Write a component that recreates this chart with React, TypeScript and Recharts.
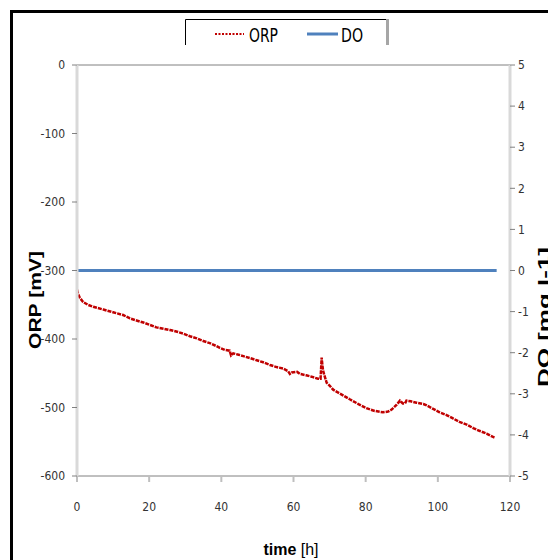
import React from 'react';
import { ComposedChart, Line, XAxis, YAxis, ReferenceLine } from 'recharts';

// ---- data ----
const orpTime = [
  0, 0.3, 0.8, 1.7, 3, 4.5, 7.3, 10, 12.8, 14.7, 16.5, 18.4, 20, 22, 24, 25.8, 27.5, 29.4,
  31.3, 33.2, 35, 36.8, 38.5, 39.6, 41, 42.3, 42.7, 43.3, 44.8, 46.1, 48, 49.8, 51.6, 53.5,
  55.3, 57.1, 58.5, 59, 59.5, 61, 61.8, 63.5, 65, 66.8, 67.5, 67.8, 68, 68.2, 68.5, 69.2,
  70, 71, 73, 75.6, 78, 80.2, 82.5, 84.8, 86.2, 87.2, 88.6, 89.5, 90.3, 90.9, 91.3, 92.5,
  94.1, 96, 96.9, 98.7, 100.5, 102.4, 104.2, 106, 108, 109.8, 111.5, 113.5, 115.3, 115.8,
];
const orpValues = [
  -328, -334, -340, -346, -350, -353, -357, -361, -365, -370, -373, -376, -379, -383, -385, -387, -389, -392,
  -396, -399, -403, -406, -410, -413, -416, -417, -424, -421, -423, -425, -428, -431, -434, -438,
  -441, -443, -447, -451, -449, -448, -451, -453, -455, -458, -458, -427, -438, -446, -452, -464,
  -468, -474, -480, -488, -495, -501, -505, -507, -506, -503, -496, -490, -494, -494, -490, -491,
  -493, -495, -497, -502, -507, -511, -516, -521, -525, -530, -534, -538, -543, -544,
];
const doTime = [0, 20, 40, 60, 80, 100, 116.3];
const doValues = [0, 0, 0, 0, 0, 0, 0];

const xTicks = [0, 20, 40, 60, 80, 100, 120];
const orpTicks = [-600, -500, -400, -300, -200, -100, 0];
const doTicks = [-5, -4, -3, -2, -1, 0, 1, 2, 3, 4, 5];

const orpData = orpTime.map((t, i) => ({ t, orp: orpValues[i] }));
const doData = doTime.map((t, i) => ({ t, do: doValues[i] }));

const NARROW = '"Liberation Sans Narrow", "DejaVu Sans Condensed", "Arial Narrow", sans-serif';
const SANS = '"Liberation Sans", Arial, sans-serif';
const tickStyle = { fill: '#333333', fontSize: 12, fontFamily: NARROW };

export default function App() {
  return (
    <div style={{ position: 'absolute', left: 0, top: 0, width: 548, height: 560, overflow: 'hidden', background: '#ffffff' }}>
      <div style={{ position: 'absolute', left: 0, top: 0 }}>
        <ComposedChart width={548} height={560} data={orpData} margin={{ top: 65, right: 0, bottom: 0, left: 0 }}>
          <XAxis
            type="number"
            dataKey="t"
            domain={[0, 120]}
            ticks={xTicks}
            height={84}
            axisLine={{ stroke: '#808080', strokeWidth: 1 }}
            tickLine={{ stroke: '#BFBFBF', strokeWidth: 2 }}
            tickSize={6}
            tickMargin={20}
            tick={tickStyle}
          />
          <YAxis
            yAxisId="left"
            domain={[-600, 0]}
            ticks={orpTicks}
            width={77}
            axisLine={{ stroke: '#D9D9D9', strokeWidth: 3 }}
            tickLine={{ stroke: '#808080' }}
            tickSize={5}
            tickMargin={7}
            tick={tickStyle}
          />
          <YAxis
            yAxisId="right"
            orientation="right"
            domain={[-5, 5]}
            ticks={doTicks}
            width={38}
            axisLine={{ stroke: '#D9D9D9', strokeWidth: 3 }}
            tickLine={{ stroke: '#808080' }}
            tickSize={5}
            tickMargin={3}
            tick={tickStyle}
          />
          <ReferenceLine yAxisId="left" y={0} stroke="#808080" strokeWidth={1} />
          <Line
            yAxisId="right"
            data={doData}
            dataKey="do"
            type="linear"
            stroke="#4F81BD"
            strokeWidth={3}
            dot={false}
            isAnimationActive={false}
          />
          <Line
            yAxisId="left"
            data={orpData}
            dataKey="orp"
            type="linear"
            stroke="#C00000"
            strokeWidth={2.5}
            strokeDasharray="4 1"
            dot={false}
            isAnimationActive={false}
          />
        </ComposedChart>
      </div>
      <svg width={548} height={560} style={{ position: 'absolute', left: 0, top: 0, pointerEvents: 'none' }}>
        {/* outer frame */}
        <line x1={11.5} y1={10} x2={11.5} y2={560} stroke="#000" strokeWidth={3} />
        <line x1={10} y1={11.5} x2={548} y2={11.5} stroke="#000" strokeWidth={3} />
        {/* legend box */}
        <line x1={185.5} y1={19.5} x2={388} y2={19.5} stroke="#000" strokeWidth={1} />
        <line x1={185.5} y1={19.5} x2={185.5} y2={45} stroke="#000" strokeWidth={1} />
        <line x1={387.5} y1={19} x2={387.5} y2={45} stroke="#A6A6A6" strokeWidth={3} />
        <line x1={215} y1={34} x2={244} y2={34} stroke="#C00000" strokeWidth={2} strokeDasharray="2 1.5" />
        <text x={249} y={42} fontSize={20} fontFamily={NARROW} fill="#000" textLength={29} lengthAdjust="spacingAndGlyphs">ORP</text>
        <line x1={307} y1={34} x2={338} y2={34} stroke="#4F81BD" strokeWidth={3} />
        <text x={341} y={42} fontSize={20} fontFamily={NARROW} fill="#000" textLength={22} lengthAdjust="spacingAndGlyphs">DO</text>
        {/* axis titles */}
        <text x={41} y={300} transform="rotate(-90 41 300)" textAnchor="middle" fontWeight="bold" fontSize={17} fontFamily={SANS} fill="#000" textLength={98} lengthAdjust="spacingAndGlyphs">ORP [mV]</text>
        <text x={550} y={317} transform="rotate(-90 550 317)" textAnchor="middle" fontWeight="bold" fontSize={17} fontFamily={SANS} fill="#000" textLength={140} lengthAdjust="spacingAndGlyphs">DO [mg l-1]</text>
        <text x={291} y={555} textAnchor="middle" fontSize={16} fontFamily={SANS} fill="#000">
          <tspan fontWeight="bold">time</tspan>
          <tspan> [h]</tspan>
        </text>
      </svg>
    </div>
  );
}
